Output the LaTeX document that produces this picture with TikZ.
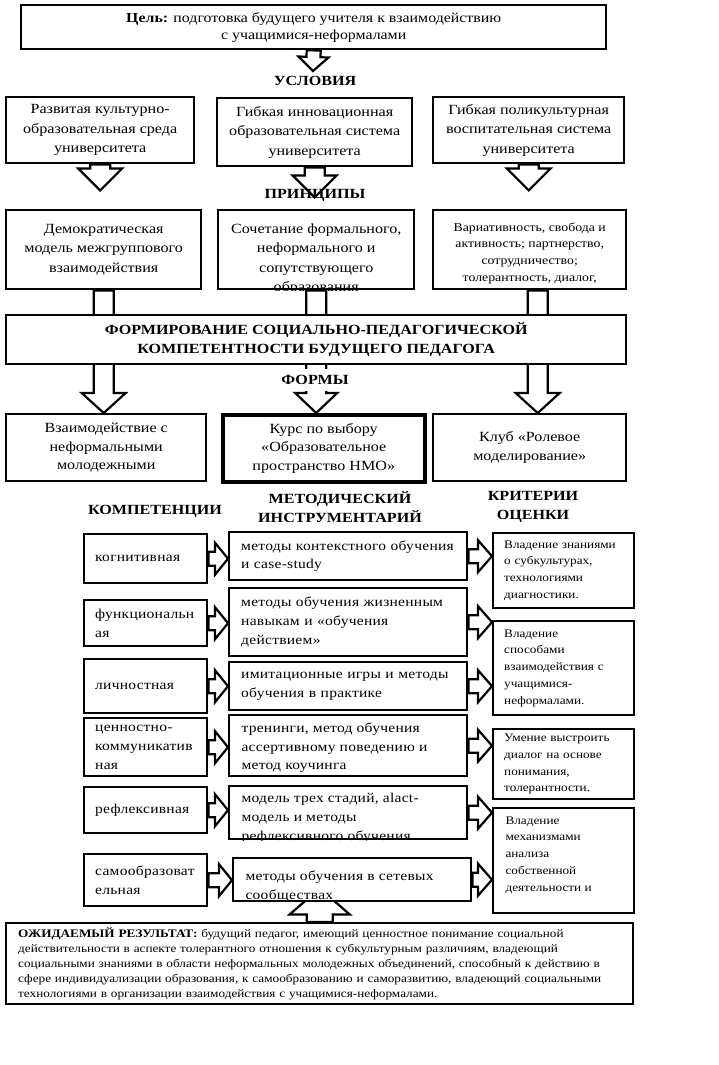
\documentclass[tikz,border=0pt]{standalone}
\usepackage{fontspec}
\setmainfont{Liberation Serif}[FakeStretch=1.15]
\usetikzlibrary{calc,backgrounds}

\newcommand\fbig{\fontsize{14}{19.5}\selectfont}
\newcommand\fgoal{\fontsize{13.8}{17}\selectfont}
\newcommand\fform{\fontsize{14}{18.5}\selectfont}
\newcommand\fmeth{\fontsize{13.5}{18.8}\selectfont\addfontfeature{LetterSpace=2}}
\newcommand\fprin{\fontsize{12}{16.8}\selectfont}
\newcommand\fsmall{\fontsize{11.5}{16.8}\selectfont}
\newcommand\fres{\fontsize{11.5}{15}\selectfont}

% block arrow: shaft half width, head half width, head length, from, to
\newcommand\barrow[5]{%
  \coordinate (bh) at ($(#5)!#3!(#4)$);
  \path[barr] ($(#4)!#1!90:(#5)$) -- ($(bh)!#1!90:(#5)$) -- ($(bh)!#2!90:(#5)$) -- (#5)
    -- ($(bh)!#2!-90:(#5)$) -- ($(bh)!#1!-90:(#5)$) -- ($(#4)!#1!-90:(#5)$) -- cycle;}

\begin{document}
\begin{tikzpicture}[x=1pt, y=-1pt,
  box/.style={draw, line width=2.4pt, fill=white, anchor=north west, inner sep=0pt, align=center},
  wh/.style 2 args={minimum width=#1pt, minimum height=#2pt},
  lbox/.style={box, align=left, inner xsep=#1pt},
  barr/.style={draw, line width=2.2pt, fill=white, line join=miter},
  title/.style={font=\fbig\bfseries, inner sep=1pt, align=center}]
\useasboundingbox (0,0) rectangle (719,1065);

\node[box, wh={585}{44}, font=\fgoal] (goal) at (20,4)
  {\textbf{Цель:} подготовка будущего учителя к взаимодействию\\с учащимися-неформалами};
\node[title] (usl) at (315,81) {УСЛОВИЯ};

\node[box, wh={188}{66}, font=\fbig] (cond1) at (5,96) {Развитая культурно-\\образовательная среда\\университета};
\node[box, wh={195}{68}, font=\fbig] (cond2) at (216,97) {Гибкая инновационная\\образовательная система\\университета};
\node[box, wh={191}{66}, font=\fbig] (cond3) at (432,96) {Гибкая поликультурная\\воспитательная система\\университета};
\node[title] (prin) at (315,195) {ПРИНЦИПЫ};

\node[box, wh={195}{79}, font=\fbig] (pr1) at (5,209) {Демократическая\\модель межгруппового\\взаимодействия};
\node[box, wh={196}{79}] (pr2) at (217,209) {};
\node[box, wh={193}{79}] (pr3) at (432,209) {};
\begin{scope}
  \clip (pr2.north west) rectangle (pr2.south east);
  \node[font=\fbig, align=center, anchor=north] (pr2t) at ([yshift=-11pt]pr2.north)
    {Сочетание формального,\\неформального и\\сопутствующего\\образования};
\end{scope}
\begin{scope}
  \clip (pr3.north west) rectangle (pr3.south east);
  \node[font=\fprin, align=center, anchor=north] (pr3t) at ([yshift=-10pt]pr3.north)
    {Вариативность, свобода и\\активность; партнерство,\\сотрудничество;\\толерантность, диалог,\\понимание};
\end{scope}

\node[box, wh={620}{49}, font=\fbig\bfseries] (comp) at (5,314)
  {ФОРМИРОВАНИЕ СОЦИАЛЬНО-ПЕДАГОГИЧЕСКОЙ\\КОМПЕТЕНТНОСТИ БУДУЩЕГО ПЕДАГОГА};
\node[title, fill=white, minimum height=22pt] (formy) at (315,380) {ФОРМЫ};

\node[box, wh={200}{67}, font=\fform] (fm1) at (5,413) {Взаимодействие с\\неформальными\\молодежными};
\node[box, wh={202}{67}, font=\fform, line width=3.5pt] (fm2) at (221,413) {Курс по выбору\\«Образовательное\\пространство НМО»};
\node[box, wh={193}{67}, font=\fform] (fm3) at (432,413) {Клуб «Ролевое\\моделирование»};

\node[title] (hk) at (155,511) {КОМПЕТЕНЦИИ};
\node[title] (hm) at (340,507) {МЕТОДИЧЕСКИЙ\\ИНСТРУМЕНТАРИЙ};
\node[title] (hc) at (533,507) {КРИТЕРИИ\\ОЦЕНКИ};

% competences
\tikzset{kbox/.style={lbox=11, wh={123}{#1}, text width=101pt, font=\fmeth}}
\node[kbox=49] (k1) at (83,533) {когнитивная};
\node[kbox=46] (k2) at (83,599) {функциональн\\ая};
\node[kbox=54] (k3) at (83,658) {личностная};
\node[kbox=58] (k4) at (83,717) {ценностно-\\коммуникатив\\ная};
\node[kbox=46] (k5) at (83,786) {рефлексивная};
\node[kbox=52] (k6) at (83,853) {самообразоват\\ельная};

% methods
\tikzset{mbox/.style={lbox=12, wh={238}{#1}, text width=214pt, font=\fmeth}}
\node[mbox=48] (m1) at (228,531) {методы контекстного обучения\\и case-study};
\node[mbox=68] (m2) at (228,587) {методы обучения жизненным\\навыкам и «обучения\\действием»};
\node[mbox=48] (m3) at (228,661) {имитационные игры и методы\\обучения в практике};
\node[mbox=61] (m4) at (228,714) {};
\node[mbox=53] (m5) at (228,785) {};
\node[mbox=43] (m6) at (232,857) {};
\begin{scope}
  \clip (m4.north west) rectangle (m4.south east);
  \node[font=\fmeth, align=left, anchor=north west] (m4t) at ([xshift=10pt,yshift=-5pt]m4.north west)
    {тренинги, метод обучения\\ассертивному поведению и\\метод коучинга};
\end{scope}
\begin{scope}
  \clip (m5.north west) rectangle (m5.south east);
  \node[font=\fmeth, align=left, anchor=north west] (m5t) at ([xshift=10pt,yshift=-5pt]m5.north west)
    {модель трех стадий, alact-\\модель и методы\\рефлексивного обучения};
\end{scope}
\begin{scope}
  \clip (m6.north west) rectangle (m6.south east);
  \node[font=\fmeth, align=left, anchor=north west] (m6t) at ([xshift=10pt,yshift=-10pt]m6.north west)
    {методы обучения в сетевых\\сообществах};
\end{scope}

% criteria
\tikzset{cbox/.style={lbox=11, wh={141}{#1}, text width=119pt, font=\fsmall}}
\node[cbox=75] (c1) at (492,532) {Владение знаниями\\о субкультурах,\\технологиями\\диагностики.};
\node[cbox=94] (c2) at (492,620) {Владение\\способами\\взаимодействия с\\учащимися-\\неформалами.};
\node[cbox=70] (c3) at (492,728) {Умение выстроить\\диалог на основе\\понимания,\\толерантности.};
\node[cbox=105] (c4) at (492,807) {};
\node[font=\fsmall, align=left, anchor=north west] (c4t) at ([xshift=10pt,yshift=-6pt]c4.north west)
  {Владение\\механизмами\\анализа\\собственной\\деятельности и};

\node[box, wh={627}{81}, align=left, text width=603pt, inner xsep=12pt, font=\fres] (res) at (5,922)
  {\textbf{ОЖИДАЕМЫЙ РЕЗУЛЬТАТ:} будущий педагог, имеющий ценностное понимание социальной\\
   действительности в аспекте толерантного отношения к субкультурным различиям, владеющий\\
   социальными знаниями в области неформальных молодежных объединений, способный к действию в\\
   сфере индивидуализации образования, к самообразованию и саморазвитию, владеющий социальными\\
   технологиями в организации взаимодействия с учащимися-неформалами.};

\begin{pgfonlayer}{background}
  \coordinate (gtip) at (313,71);
  \barrow{7pt}{15pt}{14pt}{goal.south}{gtip}
  \coordinate (ct1) at ([yshift=-26pt]cond1.south);
  \coordinate (ct2) at ([yshift=-30pt]cond2.south);
  \coordinate (ct3) at ([yshift=-26pt]cond3.south);
  \foreach \i in {1,2,3} {\barrow{10pt}{22pt}{22pt}{cond\i.south}{ct\i}}
  \coordinate (pt1) at (pr1.south |- fm1.north);
  \coordinate (pt2) at (pr2.south |- fm2.north);
  \coordinate (pa3) at ([xshift=8pt]pr3.south);
  \coordinate (pt3) at (pa3 |- fm3.north);
  \barrow{10pt}{22pt}{20pt}{pr1.south}{pt1}
  \barrow{10pt}{21pt}{20pt}{pr2.south}{pt2}
  \barrow{10pt}{22pt}{20pt}{pa3}{pt3}
  \foreach \i in {1,...,6} {
    \coordinate (kt\i) at (k\i.east -| m\i.west);
    \barrow{7pt}{16pt}{13pt}{k\i.east}{kt\i}}
  \foreach \m/\c in {1/1,2/2,3/2,4/3,5/4,6/4} {
    \coordinate (mt\m) at (m\m.east -| c\c.west);
    \barrow{7pt}{16pt}{14pt}{m\m.east}{mt\m}}
  \coordinate (ub) at (res.north |- m6.south);
  \coordinate (ut) at ([yshift=14pt]ub);
  \barrow{13pt}{30pt}{26pt}{res.north}{ut}
\end{pgfonlayer}
\end{tikzpicture}
\end{document}
